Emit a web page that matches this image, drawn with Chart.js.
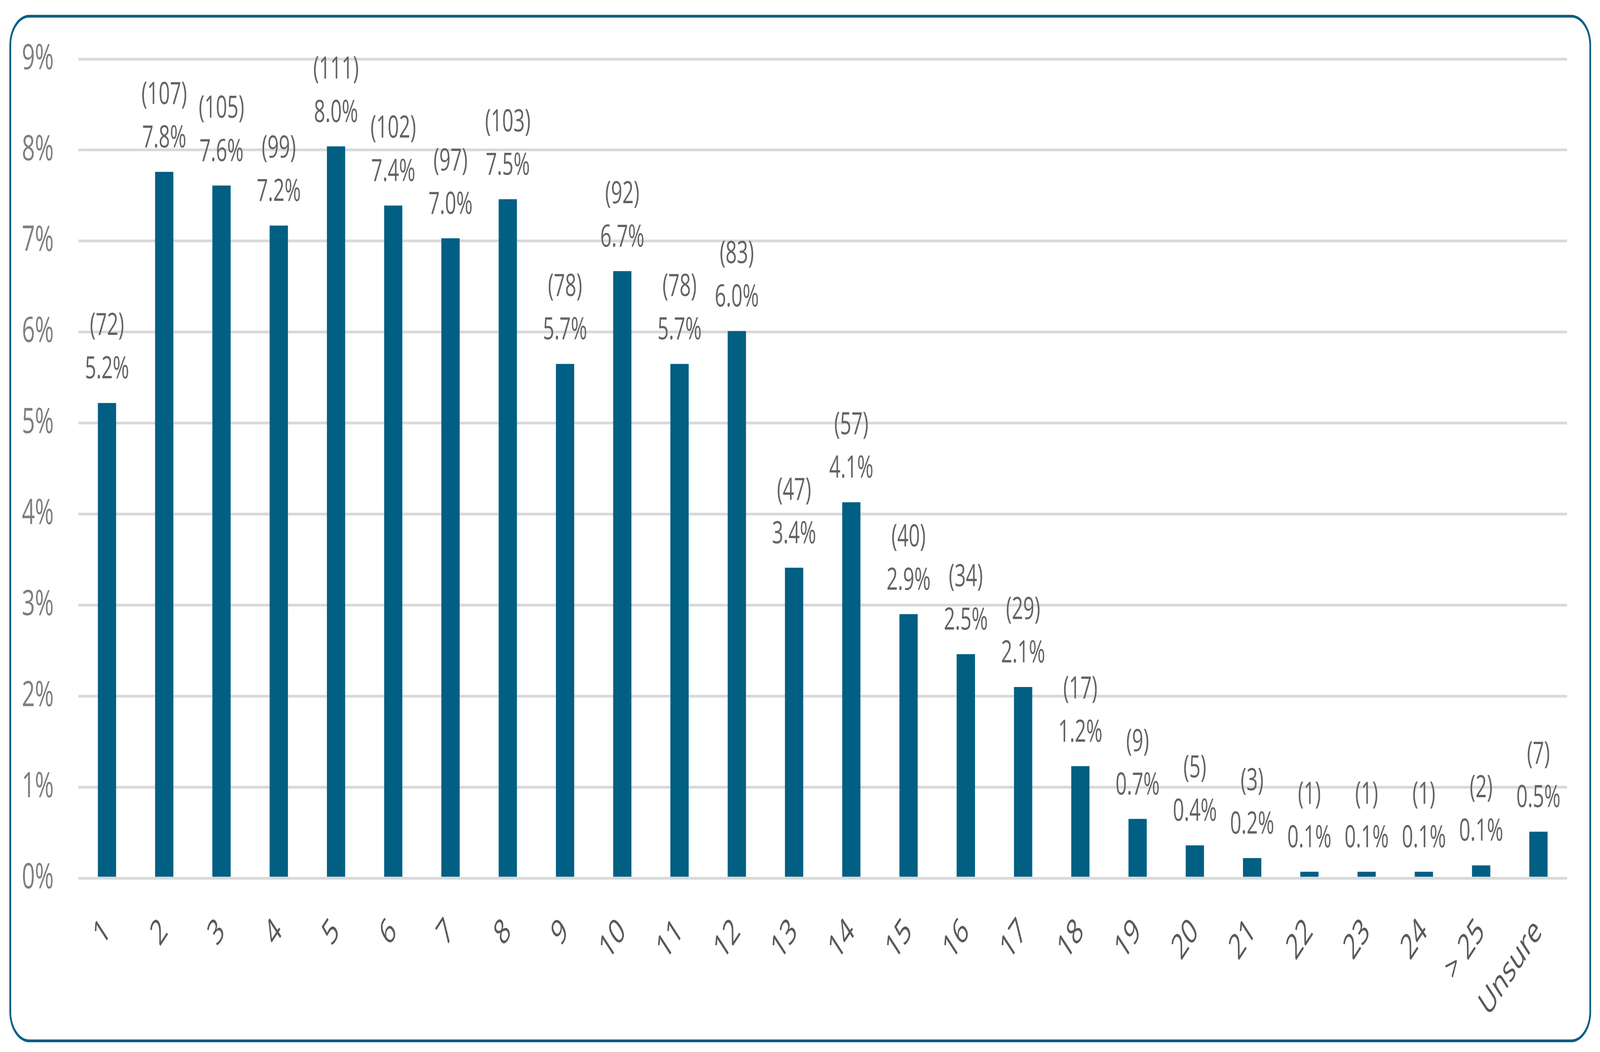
<!DOCTYPE html>
<html>
<head>
<meta charset="utf-8">
<title>Respondents by count</title>
<script src="https://cdn.jsdelivr.net/npm/chart.js@4.4.1/dist/chart.umd.min.js"></script>
<style>
  html, body { margin: 0; padding: 0; background: #fff; overflow: hidden; }
  #chartCount { display: block; width: 100vw; height: 100vh; }
</style>
</head>
<body>
<canvas id="chartCount" width="6310" height="2692" style="width:100vw;height:100vh"></canvas>
<script>
// категории по оси X
const categories = ['1', '2', '3', '4', '5', '6', '7', '8', '9', '10', '11', '12', '13',
  '14', '15', '16', '17', '18', '19', '20', '21', '22', '23', '24', '> 25', 'Unsure'];
// число ответов (в скобках над столбцами)
const respondents = [72, 107, 105, 99, 111, 102, 97, 103, 78, 92, 78, 83, 47,
  57, 40, 34, 29, 17, 9, 5, 3, 1, 1, 1, 2, 7];
// доля в процентах (высота столбцов)
const sharePct = [5.22, 7.76, 7.61, 7.17, 8.04, 7.39, 7.03, 7.46, 5.65, 6.67, 5.65, 6.01, 3.41,
  4.13, 2.90, 2.46, 2.10, 1.23, 0.65, 0.36, 0.22, 0.07, 0.07, 0.07, 0.14, 0.51];
// подписи оси Y
const yTickLabels = ['0%', '1%', '2%', '3%', '4%', '5%', '6%', '7%', '8%', '9%'];

const FONT = '"Open Sans", "Noto Sans", sans-serif';

// рамка со скруглёнными углами вокруг всего графика
const framePlugin = {
  id: 'frame',
  beforeDraw(chart) {
    const ctx = chart.ctx;
    const x = 40.5, y = 41.5, w = 6231, h = 2622, r = 75;
    ctx.save();
    ctx.fillStyle = '#fff';
    ctx.fillRect(0, 0, chart.width, chart.height);
    ctx.beginPath();
    ctx.moveTo(x + r, y);
    ctx.arcTo(x + w, y, x + w, y + h, r);
    ctx.arcTo(x + w, y + h, x, y + h, r);
    ctx.arcTo(x, y + h, x, y, r);
    ctx.arcTo(x, y, x + w, y, r);
    ctx.closePath();
    ctx.lineWidth = 7;
    ctx.strokeStyle = '#005F83';
    ctx.stroke();
    ctx.restore();
  }
};

// подписи над столбцами: (число) и процент
const barLabels = {
  id: 'barLabels',
  afterDatasetsDraw(chart) {
    const ctx = chart.ctx;
    const meta = chart.getDatasetMeta(0);
    ctx.save();
    ctx.font = '78px ' + FONT;
    ctx.fillStyle = '#636363';
    ctx.textAlign = 'center';
    ctx.textBaseline = 'alphabetic';
    meta.data.forEach((bar, i) => {
      ctx.fillText(sharePct[i].toFixed(1) + '%', bar.x, bar.y - 63);
      ctx.fillText('(' + respondents[i] + ')', bar.x, bar.y - 174);
    });
    ctx.restore();
  }
};

new Chart(document.getElementById('chartCount'), {
  type: 'bar',
  data: {
    labels: categories,
    datasets: [{
      data: sharePct,
      backgroundColor: '#005F83',
      barPercentage: 1,
      categoryPercentage: 0.319
    }]
  },
  options: {
    responsive: false,
    devicePixelRatio: 1,
    animation: false,
    layout: { padding: { top: 143, right: 130, bottom: 0, left: 0 } },
    plugins: { legend: { display: false }, tooltip: { enabled: false } },
    scales: {
      x: {
        grid: { display: false },
        border: { display: false },
        ticks: {
          color: '#595959',
          font: { family: FONT, size: 90 },
          minRotation: 45,
          maxRotation: 45,
          autoSkip: false,
          padding: 76
        },
        afterFit(scale) { scale.height = 445; }
      },
      y: {
        min: 0,
        max: 9,
        grid: { color: '#D9D9D9', lineWidth: 7, drawTicks: false },
        border: { display: false },
        ticks: {
          stepSize: 1,
          color: '#7F7F7F',
          font: { family: FONT, size: 90 },
          padding: 97,
          callback: (v, i) => yTickLabels[i]
        },
        afterFit(scale) { scale.width = 309; }
      }
    }
  },
  plugins: [framePlugin, barLabels]
});
</script>
</body>
</html>
